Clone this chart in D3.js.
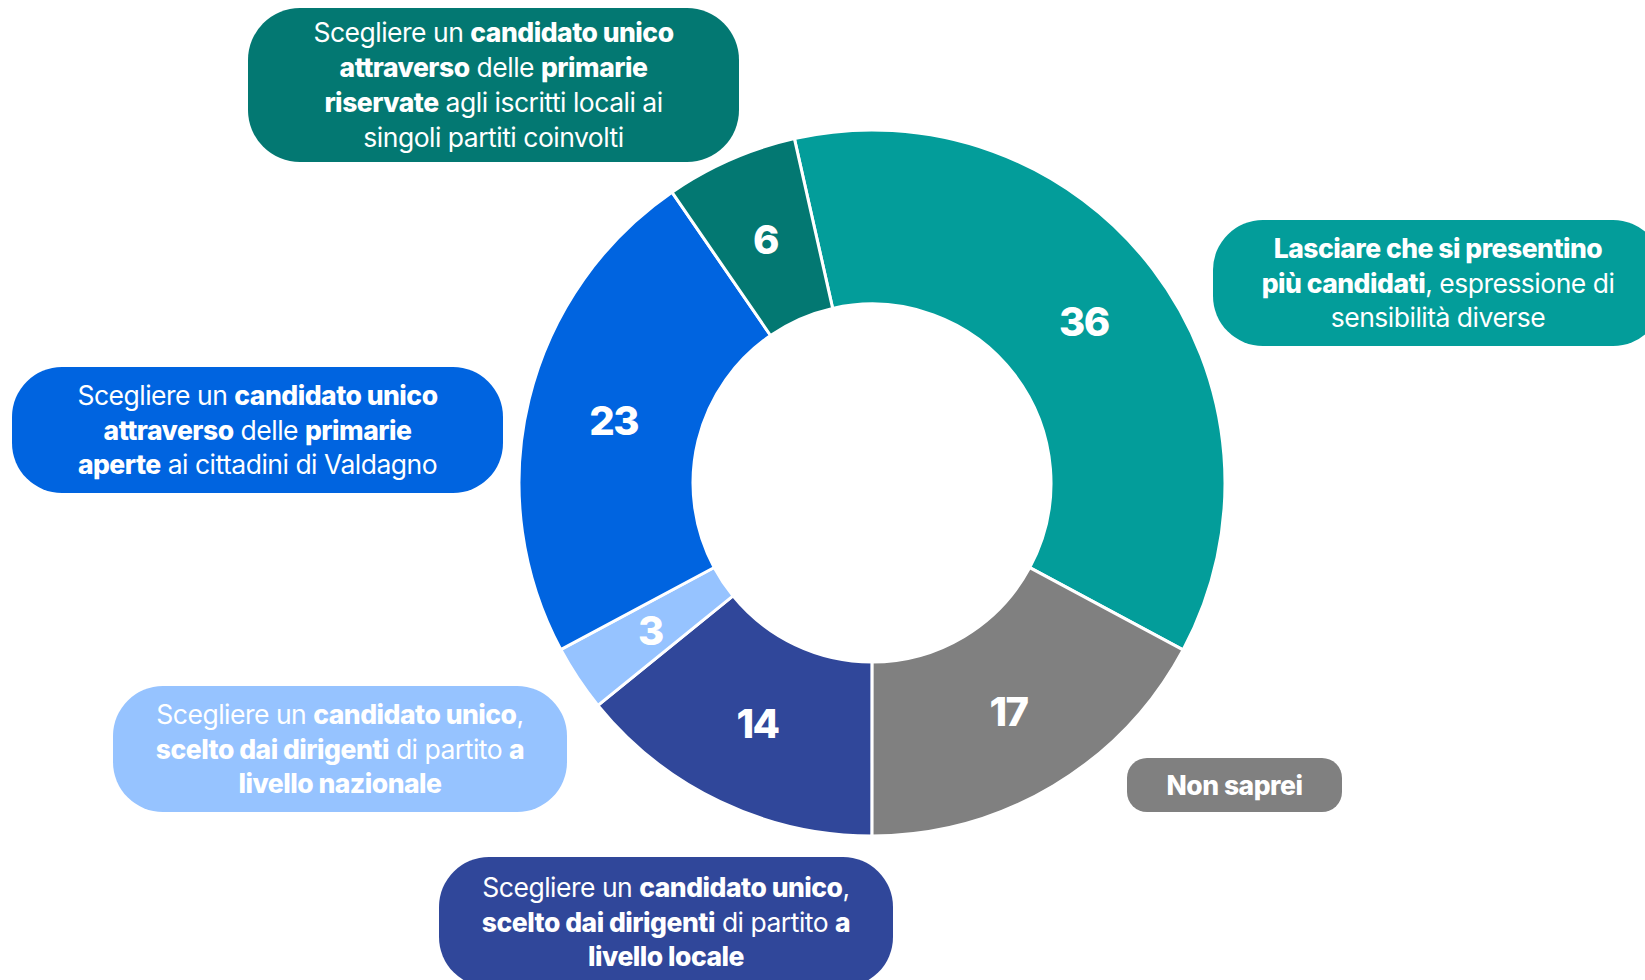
<!DOCTYPE html>
<html>
<head>
<meta charset="utf-8">
<script src="https://cdn.jsdelivr.net/npm/d3@7"></script>
<style>
  html, body { margin: 0; padding: 0; background: #fff; }
  svg { display: block; font-family: Inter, "Noto Sans", sans-serif; }
</style>
</head>
<body>
<svg id="chart" width="1645" height="980"></svg>
<script>
// Categorie e valori (%)
const categories = [
  "Più candidati",
  "Non saprei",
  "Candidato unico - dirigenti locali",
  "Candidato unico - dirigenti nazionali",
  "Primarie aperte",
  "Primarie riservate"
];
const values = [36, 17, 14, 3, 23, 6];
const colors = ["#039d9a", "#808080", "#30479a", "#96c3ff", "#0064e0", "#037872"];

// Testi delle etichette: [testo, grassetto]
const labelLines = [
  [
    [["Lasciare che si presentino", true]],
    [["più candidati", true], [", espressione di", false]],
    [["sensibilità diverse", false]]
  ],
  [
    [["Non saprei", true]]
  ],
  [
    [["Scegliere un ", false], ["candidato unico", true], [",", false]],
    [["scelto dai dirigenti", true], [" di partito ", false], ["a", true]],
    [["livello locale", true]]
  ],
  [
    [["Scegliere un ", false], ["candidato unico", true], [",", false]],
    [["scelto dai dirigenti", true], [" di partito ", false], ["a", true]],
    [["livello nazionale", true]]
  ],
  [
    [["Scegliere un ", false], ["candidato unico", true]],
    [["attraverso", true], [" delle ", false], ["primarie", true]],
    [["aperte", true], [" ai cittadini di Valdagno", false]]
  ],
  [
    [["Scegliere un ", false], ["candidato unico", true]],
    [["attraverso", true], [" delle ", false], ["primarie", true]],
    [["riservate", true], [" agli iscritti locali ai", false]],
    [["singoli partiti coinvolti", false]]
  ]
];

// Posizione dei riquadri delle etichette
const boxes = [
  { x: 1213, y: 220, w: 450, h: 126, r: 50 },
  { x: 1127, y: 758, w: 215, h: 54, r: 20 },
  { x: 439, y: 857, w: 454, h: 130, r: 50 },
  { x: 113, y: 686, w: 454, h: 126, r: 50 },
  { x: 12, y: 367, w: 491, h: 126, r: 50 },
  { x: 248, y: 8, w: 491, h: 154, r: 52 }
];

const svg = d3.select("#chart");
const cx = 872, cy = 483;
const outerR = 353, innerR = 179;

const start = -12.7 * Math.PI / 180;
const pie = d3.pie().sort(null).value((d) => d).startAngle(start).endAngle(start + 2 * Math.PI);
const arc = d3.arc().innerRadius(innerR).outerRadius(outerR);
const arcs = pie(values);

const g = svg.append("g").attr("transform", `translate(${cx},${cy})`);

g.selectAll("path")
  .data(arcs)
  .enter()
  .append("path")
  .attr("d", arc)
  .attr("fill", (d, i) => colors[i])
  .attr("stroke", "#fff")
  .attr("stroke-width", 3);

g.selectAll("text.val")
  .data(arcs)
  .enter()
  .append("text")
  .attr("class", "val")
  .attr("transform", (d) => `translate(${arc.centroid(d)})`)
  .attr("text-anchor", "middle")
  .attr("dy", "0.36em")
  .attr("fill", "#fff")
  .attr("font-size", 40)
  .attr("font-weight", 800)
  .attr("letter-spacing", -1.5)
  .text((d) => d.data);

// Riquadri con testo
const lineH = 34.8, fontSize = 26.5;
boxes.forEach((b, i) => {
  const bg = svg.append("g");
  bg.append("rect")
    .attr("x", b.x).attr("y", b.y)
    .attr("width", b.w).attr("height", b.h)
    .attr("rx", b.r).attr("ry", b.r)
    .attr("fill", colors[i]);
  const lines = labelLines[i];
  const mid = b.x + b.w / 2;
  const y0 = b.y + b.h / 2 - (lines.length - 1) * lineH / 2;
  lines.forEach((segs, j) => {
    const t = bg.append("text")
      .attr("x", mid)
      .attr("y", y0 + j * lineH)
      .attr("dy", "0.36em")
      .attr("text-anchor", "middle")
      .attr("fill", "#fff")
      .attr("font-size", fontSize)
      .attr("letter-spacing", -0.5)
      .attr("xml:space", "preserve");
    segs.forEach(([s, bold]) => {
      t.append("tspan").attr("font-weight", bold ? 800 : 400).text(s);
    });
  });
});
</script>
</body>
</html>
